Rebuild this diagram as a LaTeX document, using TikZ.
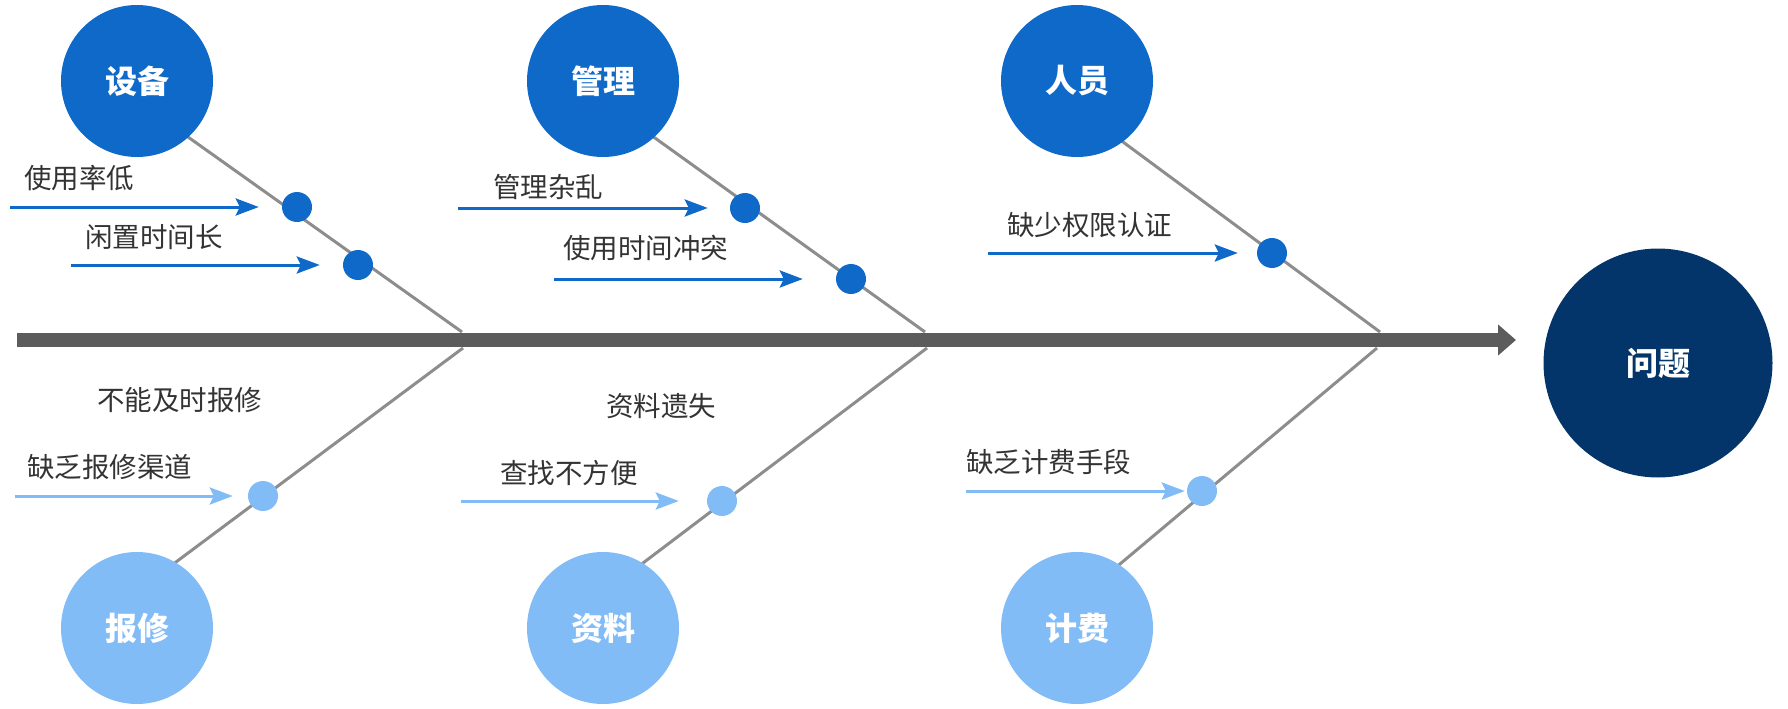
\documentclass[tikz,border=0pt]{standalone}
\usepackage{fontspec}
\newfontfamily\cjk{Noto Sans CJK SC}
\usetikzlibrary{arrows.meta,calc}
\definecolor{dblue}{HTML}{0E69C9}
\definecolor{lblue}{HTML}{82BCF7}
\definecolor{navy}{HTML}{04356A}
\definecolor{spinec}{HTML}{5B5C5B}
\definecolor{bonec}{HTML}{8C8D8C}
\definecolor{txt}{HTML}{333333}
\begin{document}
\begin{tikzpicture}[x=1pt,y=-1pt,
  cat/.style={circle, minimum size=152pt, inner sep=0pt, text=white,
    font=\cjk\bfseries\fontsize{32}{32}\selectfont},
  dot/.style={circle, minimum size=30pt, inner sep=0pt},
  lab/.style={anchor=west, inner sep=0pt, text=txt,
    font=\cjk\fontsize{27.5}{28}\selectfont},
  bone/.style={draw=bonec, line width=3pt},
  item/.style={line width=3pt, -{Stealth[length=23pt,width=17pt,inset=4pt]}},
]
\useasboundingbox (0,0) rectangle (1788,709);

% junctions and bone ends
\coordinate (j1t) at (462,332); \coordinate (e1t) at (188,137);
\coordinate (j2t) at (925,332); \coordinate (e2t) at (655,138);
\coordinate (j3t) at (1380,332); \coordinate (e3t) at (1123,142);
\coordinate (j1b) at (463,348); \coordinate (e1b) at (176,562);
\coordinate (j2b) at (927,348); \coordinate (e2b) at (643,563);
\coordinate (j3b) at (1377,348); \coordinate (e3b) at (1120,564);

\foreach \a/\b in {j1t/e1t,j2t/e2t,j3t/e3t,j1b/e1b,j2b/e2b,j3b/e3b}
  \draw[bone] (\a) -- ($(\a)!1.06!(\b)$);

% spine
\coordinate (spL) at (17,340);
\coordinate (spR) at (1516,340);
\draw[spinec, line width=14pt, -{Triangle[length=18pt,width=30pt]}] (spL) -- (spR);

% category circles
\node[cat, fill=dblue] (sb) at (137,81) {设备};
\node[cat, fill=dblue] (gl) at (603,81) {管理};
\node[cat, fill=dblue] (ry) at (1077,81) {人员};
\node[cat, fill=lblue] (bx) at (137,628) {报修};
\node[cat, fill=lblue] (zl) at (603,628) {资料};
\node[cat, fill=lblue] (jf) at (1077,628) {计费};
\node[circle, minimum size=229pt, inner sep=0pt, fill=navy, text=white,
  font=\cjk\bfseries\fontsize{32}{32}\selectfont] (wt) at (1658,363) {问题};

% dots
\node[dot, fill=dblue] (d1) at (297,207) {};
\node[dot, fill=dblue] (d2) at (358,265) {};
\node[dot, fill=dblue] (d3) at (745,208) {};
\node[dot, fill=dblue] (d4) at (851,279) {};
\node[dot, fill=dblue] (d5) at (1272,253) {};
\node[dot, fill=lblue] (d6) at (263,496) {};
\node[dot, fill=lblue] (d7) at (722,501) {};
\node[dot, fill=lblue] (d8) at (1202,491) {};

% arrow starts
\coordinate (s1) at (10,207);
\coordinate (s2) at (71,265);
\coordinate (s3) at (458,208);
\coordinate (s4) at (554,279);
\coordinate (s5) at (988,253);
\coordinate (s6) at (15,496);
\coordinate (s7) at (461,501);
\coordinate (s8) at (966,491);

\draw[item, dblue, shorten >=23pt] (s1) -- (d1);
\draw[item, dblue, shorten >=23pt] (s2) -- (d2);
\draw[item, dblue, shorten >=22pt] (s3) -- (d3);
\draw[item, dblue, shorten >=33pt] (s4) -- (d4);
\draw[item, dblue, shorten >=19pt] (s5) -- (d5);
\draw[item, lblue, shorten >=15pt] (s6) -- (d6);
\draw[item, lblue, shorten >=28pt] (s7) -- (d7);
\draw[item, lblue, shorten >=2pt] (s8) -- (d8);

% labels
\node[lab] (t1) at (24,178) {使用率低};
\node[lab] (t2) at (85,237) {闲置时间长};
\node[lab] (t3) at (493,187) {管理杂乱};
\node[lab] (t4) at (563,248) {使用时间冲突};
\node[lab] (t5) at (1007,225) {缺少权限认证};
\node[lab] (t6) at (97,400) {不能及时报修};
\node[lab] (t7) at (27,467) {缺乏报修渠道};
\node[lab] (t8) at (606,406) {资料遗失};
\node[lab] (t9) at (500,473) {查找不方便};
\node[lab] (t10) at (966,462) {缺乏计费手段};
\end{tikzpicture}
\end{document}
